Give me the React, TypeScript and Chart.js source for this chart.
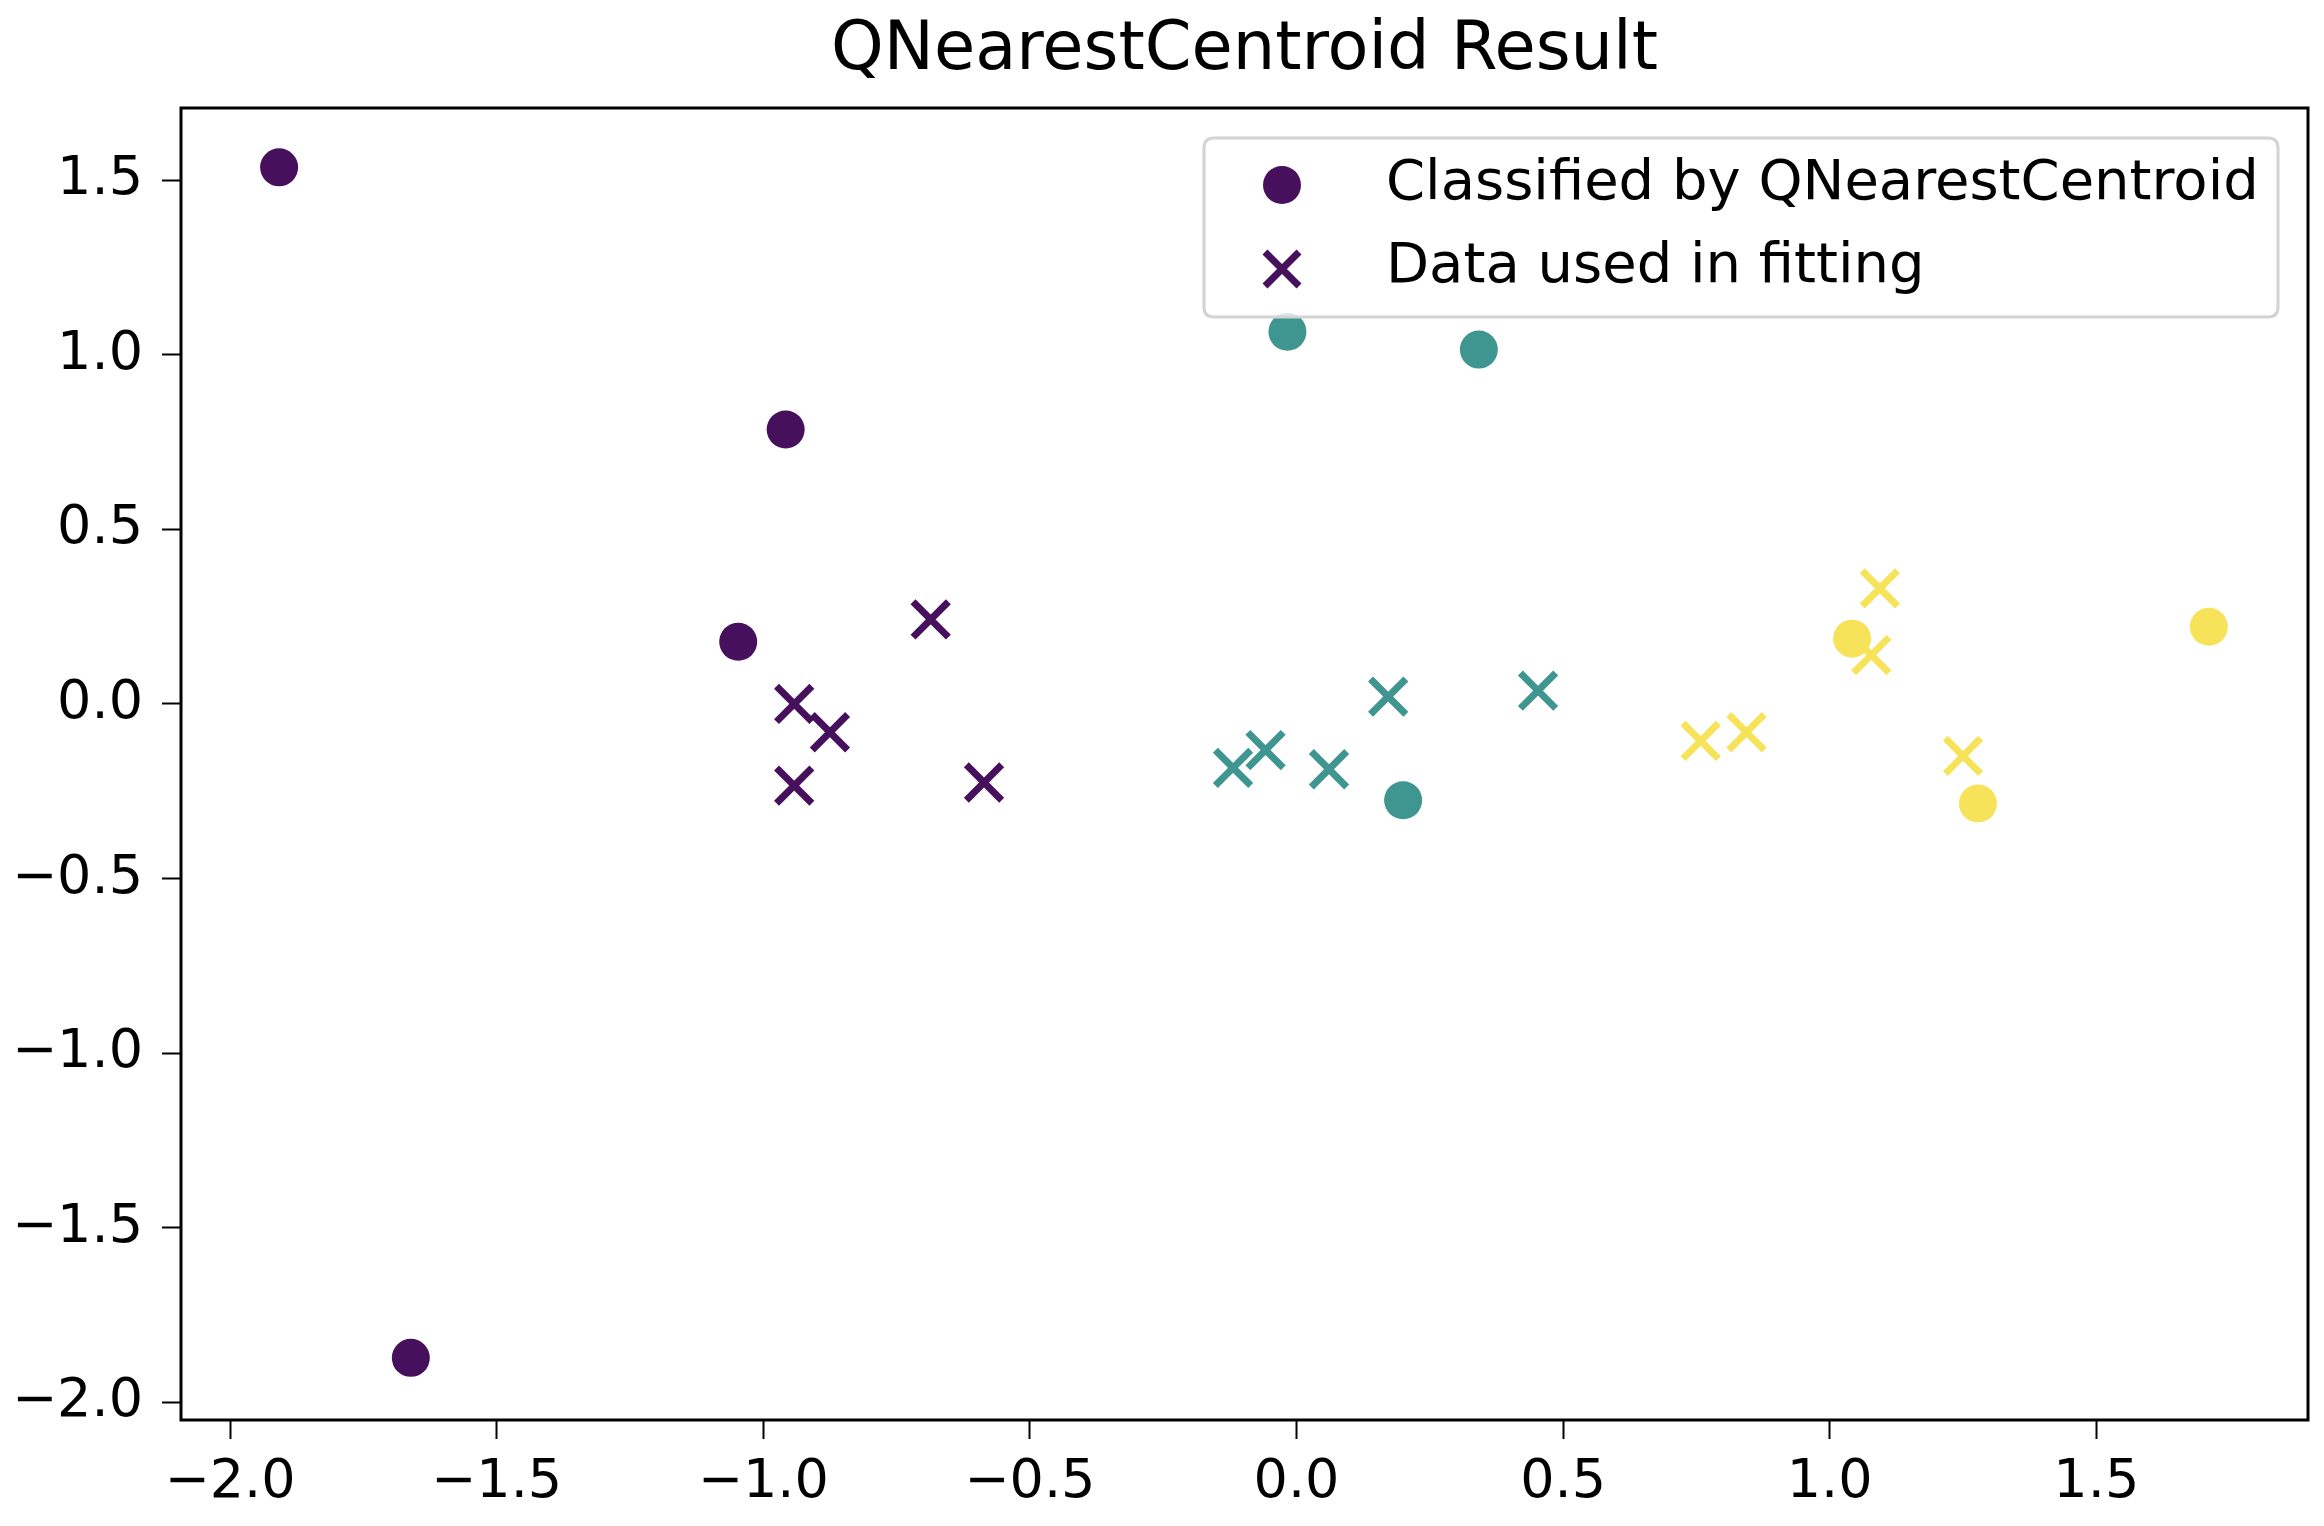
import React, { useEffect, useRef } from "react";
import { Chart, registerables } from "chart.js";

Chart.register(...registerables);

const TITLE = "QNearestCentroid Result";
const LEGEND_LABELS = ["Classified by QNearestCentroid", "Data used in fitting"];
const CLASS_COLORS = ["#46105c", "#3f958f", "#f6e35a"];

const xTicks = [-2.0, -1.5, -1.0, -0.5, 0.0, 0.5, 1.0, 1.5];
const yTicks = [-2.0, -1.5, -1.0, -0.5, 0.0, 0.5, 1.0, 1.5];

// Classified points (circles)
const class0Classified = [
  { x: -1.908, y: 1.537 },
  { x: -1.661, y: -1.873 },
  { x: -0.958, y: 0.786 },
  { x: -1.047, y: 0.178 },
];
const class1Classified = [
  { x: -0.017, y: 1.066 },
  { x: 0.342, y: 1.015 },
  { x: 0.2, y: -0.276 },
];
const class2Classified = [
  { x: 1.042, y: 0.187 },
  { x: 1.711, y: 0.221 },
  { x: 1.278, y: -0.285 },
];

// Fitting points (crosses)
const class0Fit = [
  { x: -0.686, y: 0.242 },
  { x: -0.942, y: 0.0 },
  { x: -0.875, y: -0.081 },
  { x: -0.942, y: -0.234 },
  { x: -0.586, y: -0.225 },
];
const class1Fit = [
  { x: -0.119, y: -0.183 },
  { x: -0.058, y: -0.132 },
  { x: 0.061, y: -0.187 },
  { x: 0.172, y: 0.021 },
  { x: 0.453, y: 0.038 },
];
const class2Fit = [
  { x: 1.094, y: 0.331 },
  { x: 1.078, y: 0.14 },
  { x: 0.758, y: -0.106 },
  { x: 0.844, y: -0.081 },
  { x: 1.25, y: -0.149 },
];

const X_MIN = -2.092;
const X_MAX = 1.897;
const Y_MIN = -2.051;
const Y_MAX = 1.707;

const FONT = "'DejaVu Sans', sans-serif";

const fmt = (v: number) => {
  const s = Math.abs(v).toFixed(1);
  return v < -1e-9 ? "\u2212" + s : s;
};

const framePlugin = {
  id: "frameAndLegend",
  afterDraw(chart: any) {
    const { ctx, chartArea } = chart;
    const { left, right, top, bottom } = chartArea;
    ctx.save();
    // frame
    ctx.strokeStyle = "#000";
    ctx.lineWidth = 3;
    ctx.strokeRect(left, top, right - left, bottom - top);

    // title
    ctx.fillStyle = "#000";
    ctx.font = `67px ${FONT}`;
    ctx.textAlign = "center";
    ctx.textBaseline = "middle";
    ctx.fillText(TITLE, (left + right) / 2, 52);

    // legend box
    const bx = 1204, by = 138, bw = 1074, bh = 179, r = 10;
    ctx.beginPath();
    ctx.moveTo(bx + r, by);
    ctx.lineTo(bx + bw - r, by);
    ctx.quadraticCurveTo(bx + bw, by, bx + bw, by + r);
    ctx.lineTo(bx + bw, by + bh - r);
    ctx.quadraticCurveTo(bx + bw, by + bh, bx + bw - r, by + bh);
    ctx.lineTo(bx + r, by + bh);
    ctx.quadraticCurveTo(bx, by + bh, bx, by + bh - r);
    ctx.lineTo(bx, by + r);
    ctx.quadraticCurveTo(bx, by, bx + r, by);
    ctx.closePath();
    ctx.fillStyle = "rgba(255,255,255,0.8)";
    ctx.fill();
    ctx.strokeStyle = "#d3d3d3";
    ctx.lineWidth = 3;
    ctx.stroke();

    // legend markers
    const mx = 1282;
    ctx.fillStyle = CLASS_COLORS[0];
    ctx.beginPath();
    ctx.arc(mx, 185, 19, 0, Math.PI * 2);
    ctx.fill();
    ctx.strokeStyle = CLASS_COLORS[0];
    ctx.lineWidth = 7;
    const h = 17;
    ctx.beginPath();
    ctx.moveTo(mx - h, 269 - h);
    ctx.lineTo(mx + h, 269 + h);
    ctx.moveTo(mx - h, 269 + h);
    ctx.lineTo(mx + h, 269 - h);
    ctx.stroke();

    // legend text
    ctx.fillStyle = "#000";
    ctx.font = `56px ${FONT}`;
    ctx.textAlign = "left";
    ctx.textBaseline = "middle";
    ctx.fillText(LEGEND_LABELS[0], 1386, 184);
    ctx.fillText(LEGEND_LABELS[1], 1386, 267);
    ctx.restore();
  },
};

export default function App() {
  const canvasRef = useRef<HTMLCanvasElement | null>(null);

  useEffect(() => {
    document.body.style.margin = "0";
    const canvas = canvasRef.current;
    if (!canvas) return;

    const circle = (data: any[], color: string) => ({
      data,
      pointStyle: "circle",
      pointRadius: 19,
      pointBackgroundColor: color,
      pointBorderWidth: 0,
      pointBorderColor: color,
      showLine: false,
    });
    const cross = (data: any[], color: string) => ({
      data,
      pointStyle: "crossRot",
      pointRadius: 25,
      pointBorderColor: color,
      pointBackgroundColor: color,
      pointBorderWidth: 7,
      showLine: false,
    });

    const chart = new Chart(canvas, {
      type: "scatter",
      data: {
        datasets: [
          circle(class0Classified, CLASS_COLORS[0]),
          circle(class1Classified, CLASS_COLORS[1]),
          circle(class2Classified, CLASS_COLORS[2]),
          cross(class0Fit, CLASS_COLORS[0]),
          cross(class1Fit, CLASS_COLORS[1]),
          cross(class2Fit, CLASS_COLORS[2]),
        ] as any,
      },
      options: {
        animation: false,
        responsive: false,
        maintainAspectRatio: false,
        devicePixelRatio: 1,
        layout: { autoPadding: false, padding: { top: 108, left: 0, right: 16, bottom: 0 } },
        plugins: {
          legend: { display: false },
          title: { display: false },
          tooltip: { enabled: false },
        },
        scales: {
          x: {
            type: "linear",
            min: X_MIN,
            max: X_MAX,
            afterFit: (s: any) => {
              s.height = 106;
              s.paddingLeft = 0;
              s.paddingRight = 0;
            },
            afterBuildTicks: (s: any) => {
              s.ticks = xTicks.map((v) => ({ value: v }));
            },
            border: { display: false },
            grid: {
              drawOnChartArea: false,
              drawTicks: true,
              tickLength: 19,
              tickWidth: 2,
              tickColor: "#000",
            },
            ticks: {
              includeBounds: false,
              padding: 12,
              color: "#000",
              font: { family: FONT, size: 54 },
              maxRotation: 0,
              autoSkip: false,
              callback: (v: any) => fmt(Number(v)),
            },
          },
          y: {
            type: "linear",
            min: Y_MIN,
            max: Y_MAX,
            afterFit: (s: any) => {
              s.width = 181;
              s.paddingTop = 0;
              s.paddingBottom = 0;
            },
            afterBuildTicks: (s: any) => {
              s.ticks = yTicks.map((v) => ({ value: v }));
            },
            border: { display: false },
            grid: {
              drawOnChartArea: false,
              drawTicks: true,
              tickLength: 19,
              tickWidth: 2,
              tickColor: "#000",
            },
            ticks: {
              includeBounds: false,
              padding: 19,
              color: "#000",
              font: { family: FONT, size: 54 },
              autoSkip: false,
              callback: (v: any) => fmt(Number(v)),
            },
          },
        },
      } as any,
      plugins: [framePlugin],
    });

    return () => chart.destroy();
  }, []);

  return (
    <div style={{ width: 2324, height: 1526 }}>
      <canvas ref={canvasRef} width={2324} height={1526} style={{ display: "block" }} />
    </div>
  );
}
